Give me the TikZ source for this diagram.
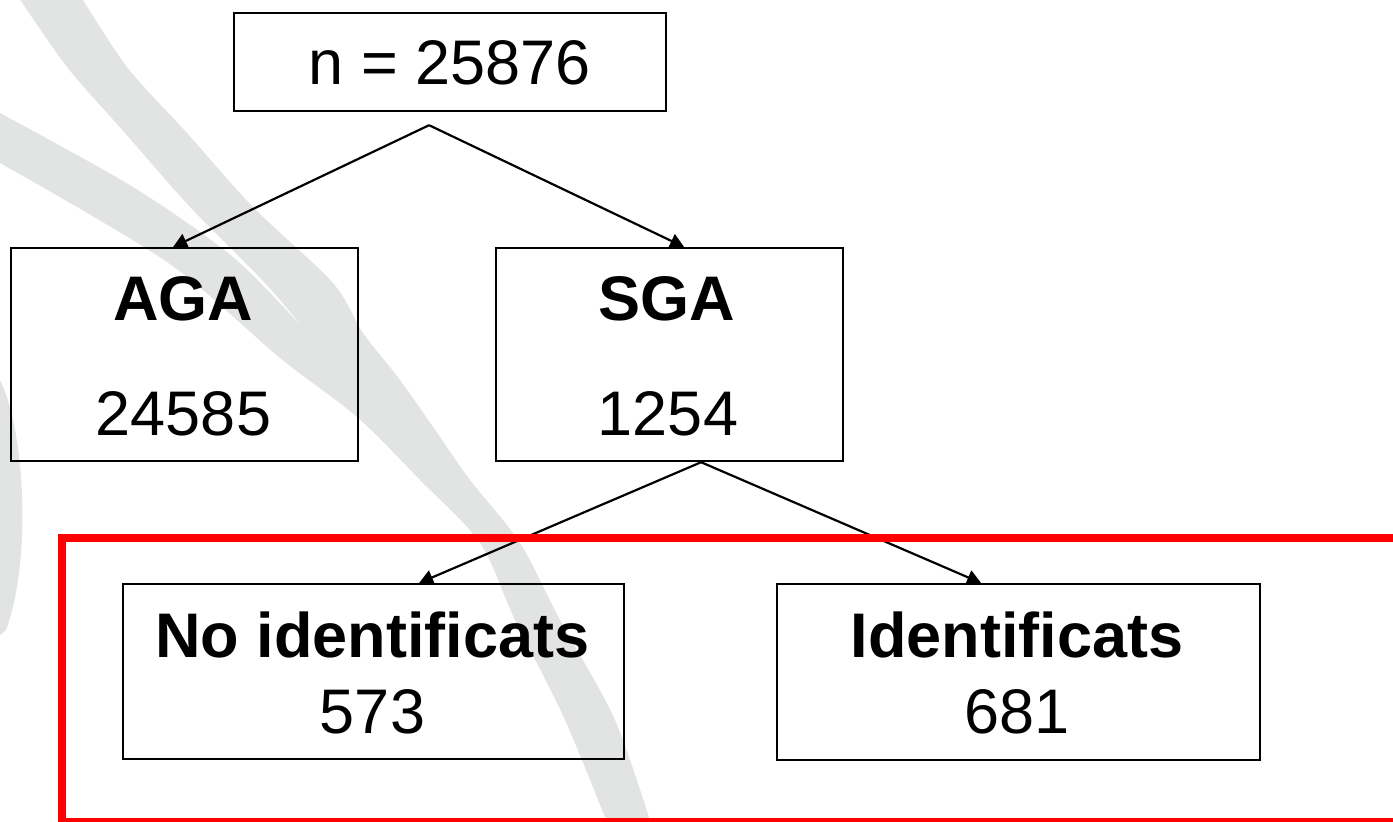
\documentclass[tikz,border=0pt]{standalone}
\usepackage{fontspec}
\setmainfont{Liberation Sans}
\usetikzlibrary{arrows.meta}
\definecolor{wmgrey}{RGB}{226,228,227}
\definecolor{framered}{RGB}{255,0,0}

\begin{document}
\begin{tikzpicture}[x=1pt,y=-1pt,
  box/.style={draw=black, line width=2.2pt, rectangle, inner sep=0pt, anchor=north west},
  val/.style={anchor=base, inner sep=0pt, font=\fontsize{63}{70}\selectfont},
  head/.style={anchor=base, inner sep=0pt, font=\fontsize{63}{70}\selectfont\bfseries},
  link/.style={draw=black, line width=2.2pt, -{Triangle[length=14pt,width=15pt]}},
  frame/.style={draw=framered, line width=8pt, rectangle, inner sep=0pt, anchor=north west},
]
\useasboundingbox (0,0) rectangle (1393,822);

% light grey watermark swooshes
\fill[wmgrey]
  plot[smooth, tension=0.5] coordinates {(17,-5) (67,67) (125,133) (190,207) (265,283) (303,328)}
  -- plot[smooth, tension=0.5] coordinates {(303,328) (233,257) (133,187) (0,113)}
  -- (-5,113) -- (-5,163)
  -- plot[smooth, tension=0.5] coordinates {(0,163) (167,262) (280,358) (357,417) (420,480) (480,543) (515,620) (565,720) (610,830)}
  -- plot[smooth, tension=0.5] coordinates {(653,830) (615,720) (560,620) (520,543) (470,480) (440,437) (400,380) (363,333) (333,283) (253,207) (187,133) (127,67) (80,-5)}
  -- cycle;
\fill[wmgrey] (-5,380) -- (0,380) .. controls (25,430) and (32,560) .. (6,630) -- (-5,640) -- cycle;

% boxes
\node[box, minimum width=432pt, minimum height=98pt] (total) at (233,12) {};
\node[box, minimum width=347pt, minimum height=213pt] (aga) at (10,247) {};
\node[box, minimum width=347pt, minimum height=213pt] (sga) at (495,247) {};
\node[box, minimum width=501pt, minimum height=175pt] (noid) at (122,583) {};
\node[box, minimum width=483pt, minimum height=176pt] (ident) at (776,583) {};

% texts
\node[val] (totaltext) at (450,84) {n = 25876};
\node[head] (agahead) at (183,320) {AGA};
\node[val] (agaval) at (183.5,435) {24585};
\node[head] (sgahead) at (667,320) {SGA};
\node[val] (sgaval) at (668,435) {1254};
\node[head] (noidhead) at (372.5,657) {No identificats};
\node[val] (noidval) at (372.5,733) {573};
\node[head] (identhead) at (1017,657) {Identificats};
\node[val] (identval) at (1017,733) {681};

% connectors
\coordinate (fork1) at ([xshift=-21pt,yshift=-13pt]total.south);
\coordinate (fork2) at ([xshift=31.5pt]sga.south);
\draw[link] (fork1) -- ([xshift=-11.5pt]aga.north);
\draw[link] (fork1) -- ([xshift=14.5pt]sga.north);
\draw[link] (fork2) -- ([xshift=45.5pt]noid.north);
\draw[link] (fork2) -- ([xshift=-37.5pt]ident.north);

% red highlight frame
\node[frame, minimum width=1362pt, minimum height=284pt] (highlight) at (57.5,534) {};
\end{tikzpicture}
\end{document}
